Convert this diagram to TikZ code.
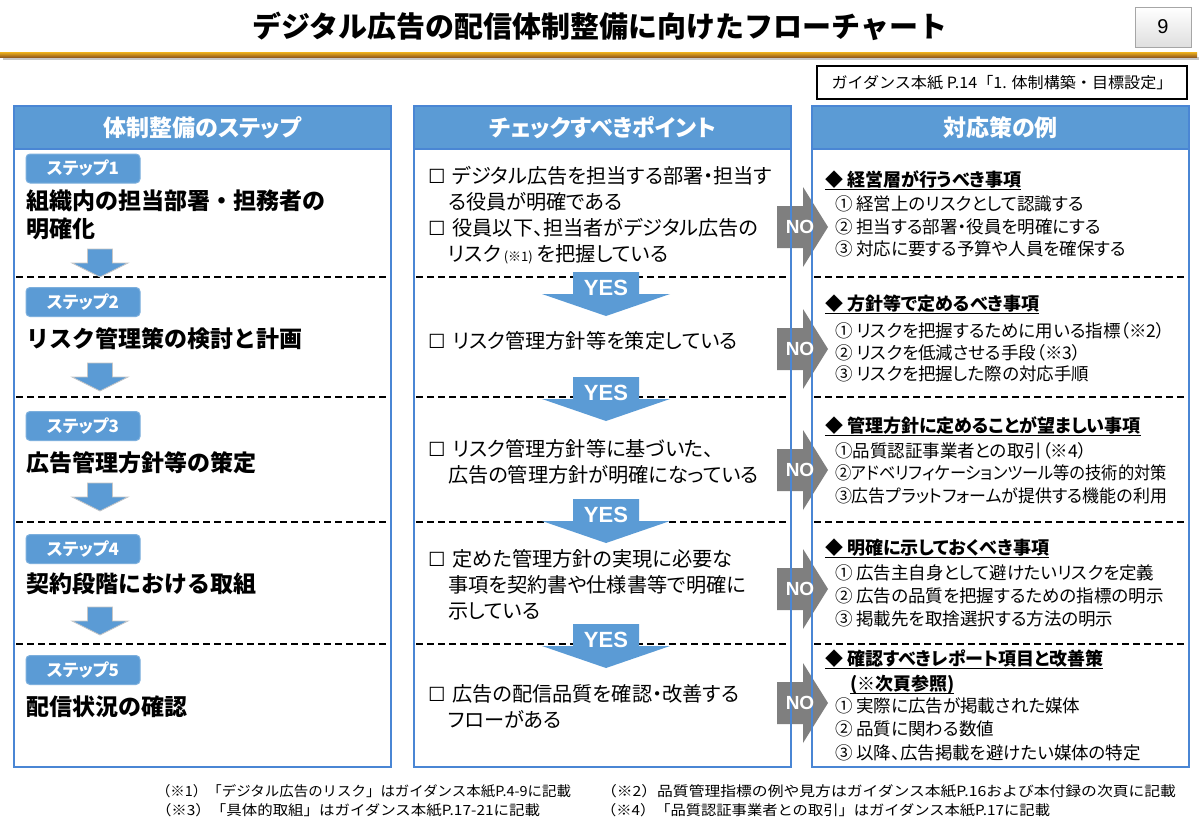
\documentclass[tikz,border=0pt]{standalone}
\usepackage{fontspec}
\usepackage{graphicx}
\setmainfont{Noto Sans CJK JP}
\newfontfamily\jp{Noto Sans CJK JP}
\newfontfamily\jpp[RawFeature=+palt]{Noto Sans CJK JP}
\newfontfamily\lat{Liberation Sans}
\newfontfamily\sym{DejaVu Sans}
\definecolor{hblue}{HTML}{5B9BD5}
\definecolor{bblue}{HTML}{4A86D4}
\definecolor{nogray}{HTML}{7F7F7F}
\definecolor{orng}{HTML}{E8912A}
\newcommand{\cb}{{\sym\fontsize{19.5}{19.5}\selectfont ☐}\hspace{7pt}}
\newcommand{\fitw}[2]{\resizebox{#1}{\height}{#2}}
\tikzset{
  every node/.style={inner sep=0pt, outer sep=0pt},
  ttl/.style={font=\jp\bfseries\fontsize{29}{29}\selectfont},
  pagebox/.style={draw=gray!70, top color=white, bottom color=gray!25, minimum width=56pt, minimum height=40pt, font=\lat\fontsize{20}{20}\selectfont},
  refbox/.style={draw=black, line width=1.2pt, fill=white, minimum width=370pt, minimum height=33pt, font=\jp\fontsize{15.5}{15.5}\selectfont},
  colbox/.style={draw=bblue, line width=2.5pt, fill=white, minimum width=377pt, minimum height=661pt, anchor=north west},
  hdr/.style={draw=bblue, line width=2.5pt, fill=hblue, text=white, minimum width=377pt, minimum height=43pt, anchor=north west, font=\jpp\bfseries\fontsize{23}{23}\selectfont},
  dashln/.style={black, line width=1.4pt, dash pattern=on 7pt off 4pt},
  steplbl/.style={draw=hblue!80!white, line width=1pt, fill=hblue, rounded corners=4pt, minimum width=114pt, minimum height=29pt, text=white, font=\jpp\bfseries\fontsize{17}{17}\selectfont},
  stit/.style={anchor=base west, font=\jp\bfseries\fontsize{23}{23}\selectfont},
  mtxt/.style={anchor=base west, font=\jpp\fontsize{20.2}{20.2}\selectfont},
  rhd/.style={anchor=base west, font=\jpp\bfseries\fontsize{18}{18}\selectfont},
  rtxt/.style={anchor=base west, font=\jpp\fontsize{17.5}{17.5}\selectfont},
  ftxt/.style={anchor=base west, font=\jp\fontsize{14}{14}\selectfont},
  uline/.style={black, line width=1.3pt},
  notext/.style={text=white, font=\lat\bfseries\fontsize{19}{19}\selectfont},
  yestext/.style={text=white, font=\lat\bfseries\fontsize{22}{22}\selectfont},
  noarrow/.pic={
    \fill[nogray] (0,-21) -- (26,-21) -- (26,-40) -- (51,0) -- (26,40) -- (26,21) -- (0,21) -- cycle;
  },
  yesarrow/.pic={
    \fill[hblue] (-33,0) -- (33,0) -- (33,22) -- (64,22) -- (0,44) -- (-64,22) -- (-33,22) -- cycle;
    \node[yestext] (-t) at (0,16) {YES};
  },
  downarrow/.pic={
    \fill[hblue, draw=gray!45, line width=0.8pt] (-12.5,0) -- (12.5,0) -- (12.5,14) -- (28,14) -- (0,28) -- (-28,14) -- (-12.5,14) -- cycle;
  }
}
\begin{document}
\begin{tikzpicture}[x=1pt,y=-1pt]
\useasboundingbox (0,0) rectangle (1200,830);
\fill[white] (0,0) rectangle (1200,830);

% title area
\node[ttl] (title) at (600,26) {デジタル広告の配信体制整備に向けたフローチャート};
\node[pagebox] (page) at (1163,27) {9};
\fill[black!22] (3,57) rectangle (1199,60);
\shade[top color=orng!70!yellow, bottom color=orng!65!black] (0,52) rectangle (1197,57);
\node[refbox] (ref) at (1002,82.5) {\fitw{341pt}{ガイダンス本紙 P.14「1. 体制構築・目標設定」}};

% columns
\node[colbox] (c1) at (14,106) {};
\node[colbox] (c2) at (414,106) {};
\node[colbox] (c3) at (812,106) {};
\node[hdr] (h1) at (14,106) {体制整備のステップ};
\node[hdr] (h2) at (414,106) {チェックすべきポイント};
\node[hdr] (h3) at (812,106) {対応策の例};

% row separators
\foreach \xa/\xb in {16/389, 416/788, 814/1186}
  \foreach \yy in {277,397,522,644}
    \draw[dashln] (\xa,\yy) -- (\xb,\yy);

% NO arrows
\pic (no1) at (777,227) {noarrow};
\pic (no2) at (777,349) {noarrow};
\pic (no3) at (777,470) {noarrow};
\pic (no4) at (777,589) {noarrow};
\pic (no5) at (777,703) {noarrow};
\draw[bblue, line width=2.5pt] (c2.north east) -- (c2.south east);
\draw[bblue, line width=2.5pt] (c3.north west) -- (c3.south west);
\node[notext] (no1t) at (800,227) {NO};
\node[notext] (no2t) at (800,349) {NO};
\node[notext] (no3t) at (800,470) {NO};
\node[notext] (no4t) at (800,589) {NO};
\node[notext] (no5t) at (800,703) {NO};

% YES arrows
\pic (yes1) at (606,272) {yesarrow};
\pic (yes2) at (606,377) {yesarrow};
\pic (yes3) at (606,499) {yesarrow};
\pic (yes4) at (606,624) {yesarrow};

% down arrows
\pic (d1) at (100,249) {downarrow};
\pic (d2) at (100,363) {downarrow};
\pic (d3) at (100,483) {downarrow};
\pic (d4) at (100,607) {downarrow};

% steps
\node[steplbl] (s1) at (83,168.5) {ステップ1};
\node[steplbl] (s2) at (83,302) {ステップ2};
\node[steplbl] (s3) at (83,426) {ステップ3};
\node[steplbl] (s4) at (83,549) {ステップ4};
\node[steplbl] (s5) at (83,670) {ステップ5};
\node[stit] (t1a) at (27,209) {組織内の担当部署・担務者の};
\node[stit] (t1b) at (27,237) {明確化};
\node[stit] (t2) at (27,347) {リスク管理策の検討と計画};
\node[stit] (t3) at (27,471) {広告管理方針等の策定};
\node[stit] (t4) at (27,592) {契約段階における取組};
\node[stit] (t5) at (27,715) {配信状況の確認};

% check points
\node[mtxt] (m1a) at (428,183) {\cb デジタル広告を担当する部署・担当す};
\node[mtxt] (m1b) at (448,209) {る役員が明確である};
\node[mtxt] (m1c) at (428,235) {\cb 役員以下、担当者がデジタル広告の};
\node[mtxt] (m1d) at (448,261) {リスク\hspace{3pt}{\fontsize{13}{13}\selectfont (※1)}\hspace{4pt}を把握している};
\node[mtxt] (m2a) at (428,348) {\cb リスク管理方針等を策定している};
\node[mtxt] (m3a) at (428,456) {\cb リスク管理方針等に基づいた、};
\node[mtxt] (m3b) at (448,482) {広告の管理方針が明確になっている};
\node[mtxt] (m4a) at (428,566) {\cb 定めた管理方針の実現に必要な};
\node[mtxt] (m4b) at (448,592) {事項を契約書や仕様書等で明確に};
\node[mtxt] (m4c) at (448,618) {示している};
\node[mtxt] (m5a) at (428,701) {\cb 広告の配信品質を確認・改善する};
\node[mtxt] (m5b) at (448,727) {フローがある};

% countermeasures
\node[rhd] (r1h) at (825,186) {◆ 経営層が行うべき事項};
\node[rtxt] (r1a) at (835,210) {① 経営上のリスクとして認識する};
\node[rtxt] (r1b) at (835,233) {② 担当する部署・役員を明確にする};
\node[rtxt] (r1c) at (835,255) {③ 対応に要する予算や人員を確保する};
\node[rhd] (r2h) at (825,310) {◆ 方針等で定めるべき事項};
\node[rtxt] (r2a) at (835,337) {① リスクを把握するために用いる指標（※2）};
\node[rtxt] (r2b) at (835,359) {② リスクを低減させる手段（※3）};
\node[rtxt] (r2c) at (835,380) {③ リスクを把握した際の対応手順};
\node[rhd] (r3h) at (825,432) {◆ 管理方針に定めることが望ましい事項};
\node[rtxt] (r3a) at (835,457) {①品質認証事業者との取引（※4）};
\node[rtxt] (r3b) at (835,479) {\fitw{332pt}{②アドベリフィケーションツール等の技術的対策}};
\node[rtxt] (r3c) at (835,502) {\fitw{332pt}{③広告プラットフォームが提供する機能の利用}};
\node[rhd] (r4h) at (825,554) {◆ 明確に示しておくべき事項};
\node[rtxt] (r4a) at (835,579) {① 広告主自身として避けたいリスクを定義};
\node[rtxt] (r4b) at (835,602) {② 広告の品質を把握するための指標の明示};
\node[rtxt] (r4c) at (835,625) {③ 掲載先を取捨選択する方法の明示};
\node[rhd] (r5h) at (825,665) {◆ 確認すべきレポート項目と改善策};
\node[rhd] (r5i) at (850,690) {(※次頁参照)};
\node[rtxt] (r5a) at (835,712) {① 実際に広告が掲載された媒体};
\node[rtxt] (r5b) at (835,735) {② 品質に関わる数値};
\node[rtxt] (r5c) at (835,759) {③ 以降、広告掲載を避けたい媒体の特定};
\foreach \n in {r1h,r2h,r3h,r4h,r5h,r5i}
  \draw[uline] ([yshift=-3.5pt]\n.base west) -- ([yshift=-3.5pt]\n.base east);

% footnotes
\node[ftxt] (f1) at (156,796) {\fitw{415pt}{（※1）「デジタル広告のリスク」はガイダンス本紙P.4-9に記載}};
\node[ftxt] (f2) at (601,796) {\fitw{575pt}{（※2）品質管理指標の例や見方はガイダンス本紙P.16および本付録の次頁に記載}};
\node[ftxt] (f3) at (156,815) {\fitw{384pt}{（※3）「具体的取組」はガイダンス本紙P.17-21に記載}};
\node[ftxt] (f4) at (601,815) {\fitw{449pt}{（※4）「品質認証事業者との取引」はガイダンス本紙P.17に記載}};
\end{tikzpicture}
\end{document}
